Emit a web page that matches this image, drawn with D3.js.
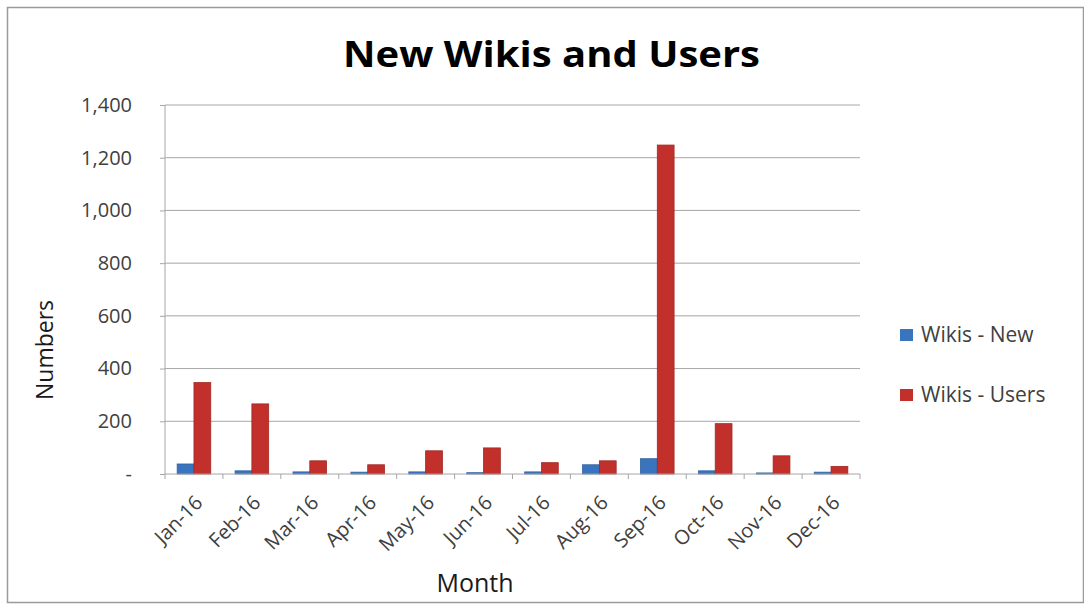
<!DOCTYPE html>
<html>
<head>
<meta charset="utf-8">
<script src="https://cdn.jsdelivr.net/npm/d3@7"></script>
<style>
body { margin: 0; background: #fff; }
text { font-family: "Open Sans", "Noto Sans", sans-serif; fill: #404040; }
</style>
</head>
<body>
<svg width="1084" height="609"></svg>
<script>
var months = ["Jan-16", "Feb-16", "Mar-16", "Apr-16", "May-16", "Jun-16",
              "Jul-16", "Aug-16", "Sep-16", "Oct-16", "Nov-16", "Dec-16"];
var wikisNew = [38, 12, 8, 7, 8, 5, 8, 35, 58, 12, 4, 7];
var wikisUsers = [347, 266, 50, 35, 88, 99, 43, 50, 1248, 191, 69, 29];
var seriesNames = ["Wikis - New", "Wikis - Users"];
var seriesColors = ["#3a74bd", "#c2302c"];
var yTicks = [0, 200, 400, 600, 800, 1000, 1200, 1400];

var svg = d3.select("svg");

// chart frame
svg.append("rect")
  .attr("x", 7.5).attr("y", 7.5)
  .attr("width", 1076).attr("height", 595)
  .attr("fill", "#fff")
  .attr("stroke", "#9a9a9a")
  .attr("stroke-width", 1.5);

var plotLeft = 165, plotTop = 105, width = 695, height = 369;

var x = d3.scaleBand().domain(months).range([0, width]).paddingInner(0).paddingOuter(0);
var x1 = d3.scaleBand().domain(seriesNames).range([x.bandwidth() * 0.21, x.bandwidth() * 0.79]);
var y = d3.scaleLinear().domain([0, 1400]).range([height, 0]);

var g = svg.append("g").attr("transform", "translate(" + plotLeft + "," + plotTop + ")");

// gridlines
g.append("g")
  .selectAll("line")
  .data(yTicks.slice(1))
  .enter().append("line")
  .attr("x1", 0).attr("x2", width)
  .attr("y1", function (d) { return y(d); })
  .attr("y2", function (d) { return y(d); })
  .attr("stroke", "#a6a6a6")
  .attr("stroke-width", 1);

// bars
var data = months.map(function (m, i) { return { month: m, values: [wikisNew[i], wikisUsers[i]] }; });
var groups = g.selectAll(".grp").data(data).enter().append("g")
  .attr("class", "grp")
  .attr("transform", function (d) { return "translate(" + x(d.month) + ",0)"; });
groups.selectAll("rect")
  .data(function (d) { return d.values.map(function (v, j) { return { name: seriesNames[j], v: v, c: j }; }); })
  .enter().append("rect")
  .attr("x", function (d) { return x1(d.name); })
  .attr("width", x1.bandwidth())
  .attr("y", function (d) { return y(d.v); })
  .attr("height", function (d) { return height - y(d.v); })
  .attr("fill", function (d) { return seriesColors[d.c]; })
  .attr("stroke", function (d) { return d3.color(seriesColors[d.c]).darker(0.5); })
  .attr("stroke-width", 0.8);

// y axis
var yAxis = g.append("g")
  .call(d3.axisLeft(y).tickValues(yTicks).tickSize(5).tickPadding(28)
    .tickFormat(function (d) { return d === 0 ? "-" : d3.format(",")(d); }));
yAxis.select(".domain").attr("stroke", "#a6a6a6").attr("d", "M0,0V" + height);
yAxis.selectAll(".tick line").attr("stroke", "#a6a6a6");
yAxis.selectAll(".tick text").attr("font-size", 20).attr("fill", "#404040")
  .style("font-family", "'Open Sans', sans-serif");

// x axis
var xAxis = g.append("g")
  .attr("transform", "translate(0," + height + ")")
  .call(d3.axisBottom(x).tickSize(0).tickPadding(0));
xAxis.select(".domain").attr("stroke", "#a6a6a6").attr("d", "M0,0H" + width);
xAxis.selectAll(".tick line").remove();
g.append("g").selectAll("line")
  .data(d3.range(months.length + 1))
  .enter().append("line")
  .attr("x1", function (i) { return i * x.step(); })
  .attr("x2", function (i) { return i * x.step(); })
  .attr("y1", height).attr("y2", height + 5)
  .attr("stroke", "#a6a6a6");
xAxis.selectAll(".tick text")
  .attr("font-size", 20)
  .attr("fill", "#404040")
  .style("font-family", "'Open Sans', sans-serif")
  .style("text-anchor", "end")
  .attr("dy", 0)
  .attr("transform", "translate(10,30) rotate(-45)");

// title
svg.append("text")
  .attr("x", 343).attr("y", 67)
  .attr("font-size", 36)
  .attr("font-weight", "bold")
  .attr("textLength", 417)
  .attr("lengthAdjust", "spacingAndGlyphs")
  .style("fill", "#000")
  .text("New Wikis and Users");

// axis titles
svg.append("text")
  .attr("transform", "translate(53,350) rotate(-90)")
  .attr("text-anchor", "middle")
  .attr("font-size", 23)
  .style("fill", "#1a1a1a")
  .text("Numbers");
svg.append("text")
  .attr("x", 475).attr("y", 592)
  .attr("text-anchor", "middle")
  .attr("font-size", 25)
  .style("fill", "#1a1a1a")
  .text("Month");

// legend
var legend = svg.append("g").attr("transform", "translate(900,335)");
var li = legend.selectAll("g").data(seriesNames).enter().append("g")
  .attr("transform", function (d, i) { return "translate(0," + i * 60 + ")"; });
li.append("rect")
  .attr("x", 0).attr("y", -6).attr("width", 13).attr("height", 12)
  .attr("fill", function (d, i) { return seriesColors[i]; });
li.append("text")
  .attr("x", 21).attr("y", 0).attr("dy", "0.35em")
  .attr("font-size", 21)
  .style("fill", "#404040")
  .text(function (d) { return d; });
</script>
</body>
</html>
